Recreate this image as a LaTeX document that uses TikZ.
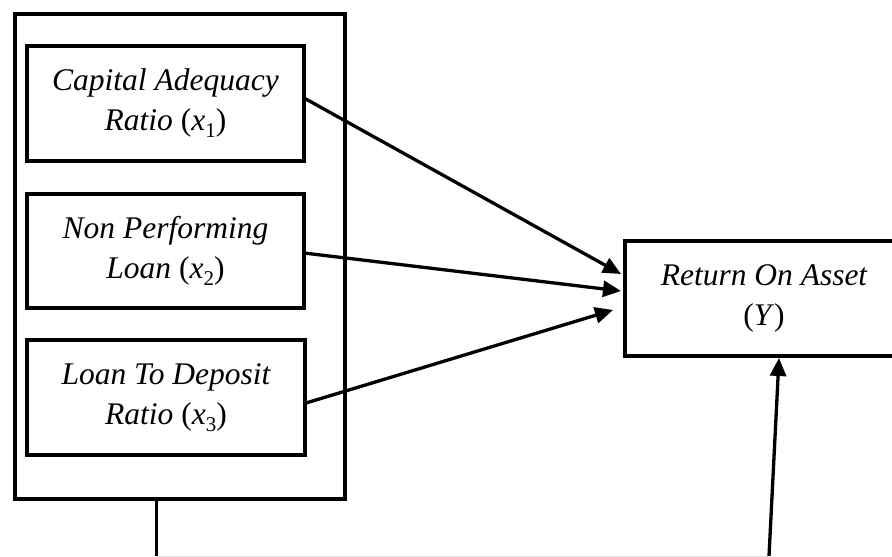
\documentclass[tikz,border=0pt]{standalone}
\usepackage{fontspec}
\setmainfont{Liberation Serif}
\usetikzlibrary{arrows.meta,calc}
\newcommand{\varsub}[1]{\textit{x}\raisebox{-0.22em}{\fontsize{21}{21}\selectfont\upshape #1}}
\begin{document}
\begin{tikzpicture}[x=1pt,y=-1pt,
  boxstyle/.style={draw=black,line width=4pt,inner sep=0pt,outer sep=0pt,align=center,
    font=\fontsize{31.5}{40}\selectfont\itshape},
  arrowline/.style={line width=3.3pt,-{Triangle[length=18pt,width=16pt]}},
  plainline/.style={line width=3pt}]
\useasboundingbox (0,0) rectangle (892,557);
\node[boxstyle,minimum width=330.5pt,minimum height=485pt] (outer) at (179.75,256.5) {};
\node[boxstyle,minimum width=277pt,minimum height=115pt] (b1) at (165.5,103.5)
  {Capital Adequacy\\Ratio \upshape(\varsub{1})};
\node[boxstyle,minimum width=277pt,minimum height=114pt] (b2) at (165.5,251)
  {Non Performing\\Loan \upshape(\varsub{2})};
\node[boxstyle,minimum width=278pt,minimum height=115pt] (b3) at (166,397.5)
  {Loan To Deposit\\Ratio \upshape(\varsub{3})};
\node[boxstyle,minimum width=278pt,minimum height=115pt] (roa) at (764,298.5)
  {Return On Asset\\\upshape(\textit{Y})};
\draw[arrowline] ($(b1.east)+(0,-5.5)$) -- ($(roa.west)+(-4,-24.5)$);
\draw[arrowline] ($(b2.east)+(0,2)$) -- ($(roa.west)+(-4,-7.5)$);
\draw[arrowline] ($(b3.east)+(1,5.5)$) -- ($(roa.west)+(-12,11.5)$);
\coordinate (c1) at (156,556);
\coordinate (c2) at (769,556);
\draw[plainline] (outer.south -| c1) -- (c1);
\draw[line width=1pt,black!12] (c1) -- (c2);
\draw[arrowline] (c2) -- ($(roa.south)+(15,2)$);
\end{tikzpicture}
\end{document}
